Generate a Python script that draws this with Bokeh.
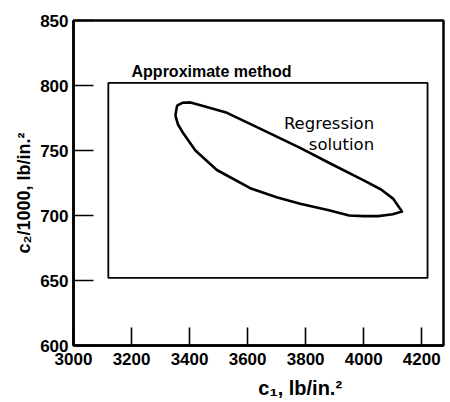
from bokeh.plotting import figure
from bokeh.models import Range1d, FixedTicker, Label
from bokeh.embed import file_html
from bokeh.resources import INLINE

# Axis ticks
c1_ticks = [3000, 3200, 3400, 3600, 3800, 4000, 4200]
c2_ticks = [600, 650, 700, 750, 800, 850]

# Approximate-method bounds (c1 in lb/in.^2, c2/1000 in lb/in.^2)
approx_c1 = [3120, 4220]
approx_c2 = [652, 802]

# Regression-solution confidence contour, traced around the closed curve
region_c1 = [3351, 3357, 3375, 3403, 3450, 3529, 3650, 3781, 3885, 4000, 4060,
             4101, 4120, 4132, 4100, 4050, 4000, 3950, 3880, 3781, 3700, 3609,
             3494, 3420, 3379, 3360, 3351]
region_c2 = [777, 784.5, 786.7, 787, 784, 779, 766, 752, 740, 727, 720,
             713, 707, 703, 701, 699.5, 699.5, 700, 704, 709, 714, 721,
             735, 750, 763, 770, 777]

x_title = "c\u2081, lb/in.\u00b2"
y_title = "c\u2082/1000, lb/in.\u00b2"

W, H = 450, 402

p = figure(width=W, height=H, output_backend="svg", toolbar_location=None,
           x_range=Range1d(3000, 4275), y_range=Range1d(600, 850),
           min_border_left=73, min_border_right=7, min_border_top=20, min_border_bottom=57)
p.background_fill_color = "white"
p.border_fill_color = "white"
p.xgrid.visible = False
p.ygrid.visible = False
p.outline_line_color = "black"
p.outline_line_width = 2.5

tick_font = "Liberation Sans"
for ax, ticks, tin, standoff in ((p.xaxis[0], c1_ticks, 18, 7), (p.yaxis[0], c2_ticks, 20, 5)):
    ax.ticker = FixedTicker(ticks=ticks)
    ax.minor_tick_line_color = None
    ax.major_tick_in = tin
    ax.major_tick_out = 0
    ax.major_tick_line_width = 1.6
    ax.major_tick_line_color = "black"
    ax.axis_line_width = 2.5
    ax.axis_line_color = "black"
    ax.major_label_text_font = tick_font
    ax.major_label_text_font_style = "bold"
    ax.major_label_text_font_size = "17px"
    ax.major_label_text_color = "black"
    ax.major_label_standoff = standoff
    ax.axis_label_text_font = "Liberation Sans"
    ax.axis_label_text_font_style = "bold"
    ax.axis_label_text_color = "black"

# x title sits right of the frame centre: pad its start with no-break spaces
p.xaxis[0].axis_label = "\u00a0" * 15 + x_title
p.xaxis[0].axis_label_text_font_size = "20px"
p.xaxis[0].axis_label_standoff = 9
# y title sits slightly below the frame centre: pad its end
p.yaxis[0].axis_label = y_title + "\u00a0" * 4
p.yaxis[0].axis_label_text_font_size = "18px"
p.yaxis[0].axis_label_standoff = 3

# Approximate-method box
p.quad(left=[approx_c1[0]], right=[approx_c1[1]], bottom=[approx_c2[0]], top=[approx_c2[1]],
       fill_color=None, line_color="black", line_width=1.8)

# Regression-solution contour
p.line(region_c1, region_c2, line_color="black", line_width=2.6, line_join="round")

# In-plot annotations
p.add_layout(Label(x=3200, y=810.5, text="Approximate method", text_font="Liberation Sans",
                   text_font_style="bold", text_font_size="16px", text_align="left",
                   text_baseline="alphabetic", text_color="black"))
p.add_layout(Label(x=4036, y=770.8, text="Regression", text_font="DejaVu Sans",
                   text_font_size="16.5px", text_align="right",
                   text_baseline="alphabetic", text_color="black"))
p.add_layout(Label(x=4036, y=754.6, text="solution", text_font="DejaVu Sans",
                   text_font_size="16.5px", text_align="right",
                   text_baseline="alphabetic", text_color="black"))

open("out.html", "w").write(file_html(p, INLINE))
